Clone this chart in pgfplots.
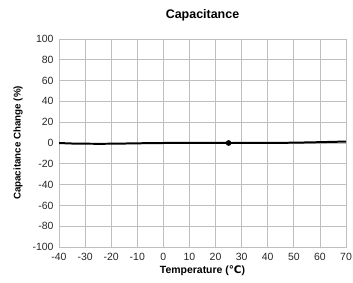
\documentclass[border=0pt]{standalone}
\usepackage{pgfplots}
\pgfplotsset{compat=1.18}
\usepackage{fontspec}
\setmainfont{Liberation Sans}
\newfontfamily\dejavu{DejaVu Sans}
\begin{document}
\begin{tikzpicture}
\useasboundingbox (0,0) rectangle (353bp,283bp);
\begin{axis}[
  at={(59bp,36bp)}, anchor=south west,
  scale only axis, width=287bp, height=208bp,
  xmin=-40, xmax=70, ymin=-100, ymax=100,
  xtick={-40,-30,...,70}, ytick={-100,-80,...,100},
  grid=major, major grid style={draw=black!25, line width=0.8pt},
  axis line style={draw=black!25, line width=0.8pt},
  tick style={draw=none},
  /pgf/number format/assume math mode=true,
  ticklabel style={font=\fontsize{10.5}{12}\selectfont, text=black!85},
  yticklabel style={xshift=-2bp},
  xticklabel style={yshift=-3bp},
  title={\bfseries Capacitance},
  title style={font=\fontsize{12.5}{14}\selectfont, at={(0.5,1)}, yshift=8bp},
  xlabel={\bfseries Temperature ({\dejavu\bfseries ℃})},
  ylabel={\bfseries Capacitance Change (\%)},
  xlabel style={font=\fontsize{10.5}{12}\selectfont, yshift=2bp},
  ylabel style={font=\fontsize{9.8}{11}\selectfont, yshift=3bp},
]
\addplot[black, line width=2pt, smooth] coordinates {
(-40,0) (-35,-0.5) (-30,-0.7) (-20,-0.7) (-10,-0.3) (0,0) (10,0.1) (25,0) (40,0.1) (50,0.3) (60,0.8) (70,1.4)};
\addplot[only marks, mark=*, mark size=2.6pt, black] coordinates {(25,0)};
\end{axis}
\end{tikzpicture}
\end{document}
